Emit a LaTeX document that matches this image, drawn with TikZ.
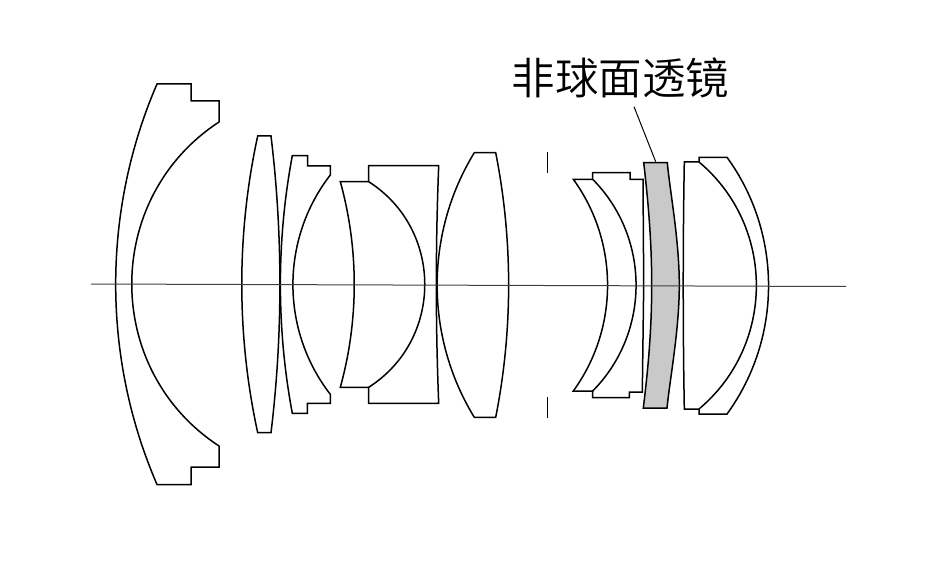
\documentclass[tikz,border=0pt]{standalone}
\usepackage{fontspec}
\newfontfamily\cjk{Noto Sans CJK SC DemiLight}
\tikzset{
    lens/.style = {draw=black, line width=1.5pt, line join=miter},
    asph/.style = {lens, fill=black!21},
    bulger/.style = {bend left=#1, /utils/exec={\pgfmathsetmacro\sagloose{0.8514/cos(#1/2)^2}}, looseness=\sagloose},
    bulgel/.style = {bend right=#1, /utils/exec={\pgfmathsetmacro\sagloose{0.8514/cos(#1/2)^2}}, looseness=\sagloose},
    axisline/.style = {draw=black!75, line width=1pt},
    stopline/.style = {draw=black, line width=1.2pt},
    leader/.style = {draw=black, line width=1pt},
    caption/.style = {inner sep=0pt, font=\cjk\fontsize{43.5}{43.5}\selectfont}
}
\begin{document}
\begin{tikzpicture}[x=1pt,y=-1pt]
    \useasboundingbox (0,0) rectangle (936,561);
    % front group
    \draw[lens] (157,84) -- (191,84) -- (191,101) -- (219,101) -- (219,122)
        to[bulgel=56.8] (219,446) -- (219,467) -- (191,467) -- (191,484.5) -- (157,484.5)
        to[bulger=23.4] (157,84) -- cycle;
    \draw[lens] (257.7,136) -- (271,136) to[bulger=6.9] (271,432.7) -- (257.7,432.7)
        to[bulger=12.3] (257.7,136) -- cycle;
    \draw[lens] (292.3,155.7) -- (307.7,155.7) -- (307.7,166) -- (330.3,166) -- (330.3,175)
        to[bulgel=37.8] (330.3,394.3) -- (330.3,403.3) -- (307.3,403.3) -- (307.3,413.3) -- (292.3,413.3)
        to[bulger=10.6] (292.3,155.7) -- cycle;
    % cemented pair
    \draw[lens] (340.3,181.7) -- (368.7,181.7) -- (368.7,165.7) -- (438.7,165.7)
        to[bulgel=2.3] (438.7,403.3) -- (368.7,403.3) -- (368.7,387.3) -- (340.3,387.3)
        to[bulgel=15.5] (340.3,181.7) -- cycle;
    \draw[lens] (368.7,181.7) to[bulger=57.4] (368.7,387.3);
    \draw[lens] (474.3,152.7) -- (495.7,152.7) to[bulger=11.2] (495.7,417.3) -- (474.3,417.3)
        to[bulger=31.5] (474.3,152.7) -- cycle;
    % stop
    \draw[stopline] (547.7,152.3) -- (547.7,172.7);
    \draw[stopline] (547.7,397.3) -- (547.7,418.3);
    % rear group
    \draw[lens] (573.3,179.3) -- (592.7,179.3) -- (592.7,172.7) -- (630,172.7) -- (630,179.3) -- (643,179.3)
        -- (643.7,285) -- (642.3,392) -- (629.3,392) -- (629.3,397.7) -- (592.7,397.7) -- (592.7,391) -- (573.3,391)
        to[bulgel=36] (573.3,179.3) -- cycle;
    \draw[lens] (592.7,179.3) to[bulger=44.7] (592.7,391);
    \draw[asph] (643.7,162.7) -- (667.3,162.7)
        .. controls (670,192) and (679.3,240) .. (679.3,285)
        .. controls (679.3,330) and (670,378) .. (667,408)
        -- (643.3,408)
        .. controls (648,370) and (651.7,330) .. (651.7,285)
        .. controls (651.7,240) and (648,200) .. (643.7,162.7) -- cycle;
    \draw[lens] (684.3,162) -- (699,162) -- (699,157.3) -- (727,157.3)
        to[bulger=36] (727,414) -- (699,414) -- (699,409) -- (684.3,409)
        to[bulger=1] (684.3,162) -- cycle;
    \draw[lens] (699,162) to[bulger=50] (699,409);
    % optical axis
    \coordinate (axisl) at (91,284);
    \coordinate (axisr) at (846,286.5);
    \draw[axisline] (axisl) -- (axisr);
    % label
    \node[caption, anchor=center] (asphlabel) at (620.5,78) {非球面透镜};
    \coordinate (leadtop) at (634,106.7);
    \coordinate (leadend) at (655.7,161.7);
    \draw[leader] (leadtop) -- (leadend);
\end{tikzpicture}
\end{document}
